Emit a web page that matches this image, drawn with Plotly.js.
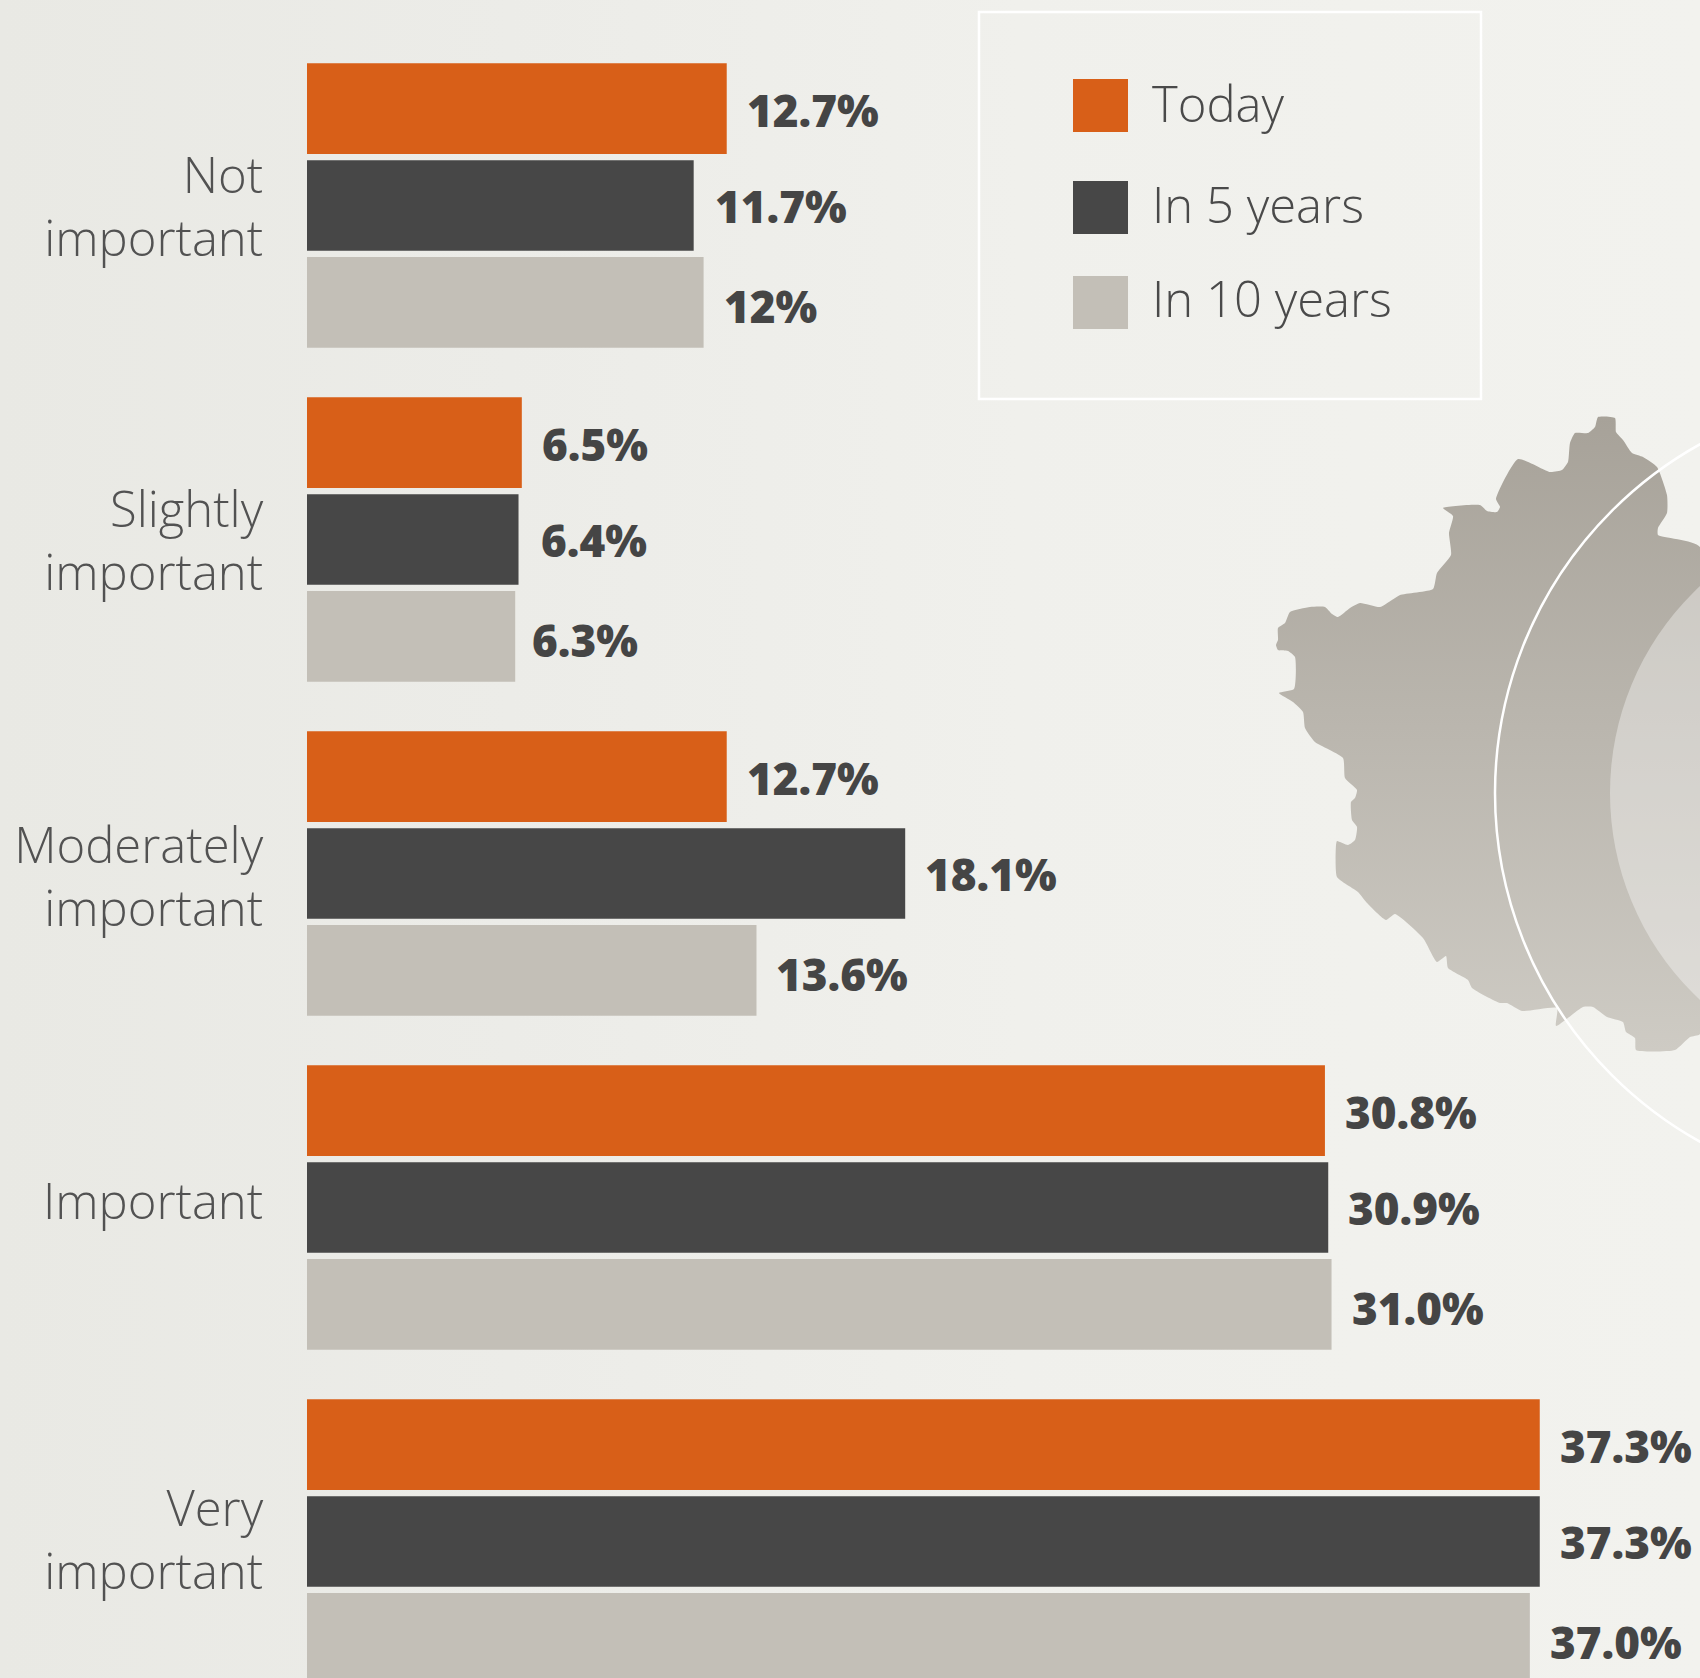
<!DOCTYPE html>
<html>
<head>
<meta charset="utf-8">
<script src="https://cdn.plot.ly/plotly-3.0.1.min.js"></script>
<style>
html,body{margin:0;padding:0;width:1700px;height:1678px;overflow:hidden;
background:linear-gradient(90deg,#e9e9e4 0%,#ecece8 30%,#f0f0ec 60%,#f2f2ee 100%);}
#chart{width:1700px;height:1678px;}
</style>
</head>
<body>
<div id="chart"></div>
<script>
const categories = ["Not<br>important","Slightly<br>important","Moderately<br>important","Important","Very<br>important"];
const seriesNames = ["Today","In 5 years","In 10 years"];
const seriesColors = ["#d85f18","#474747","#c3bfb7"];
const today = [12.7,6.5,12.7,30.8,37.3];
const in5Years = [11.7,6.4,18.1,30.9,37.3];
const in10Years = [12,6.3,13.6,31.0,37.0];
const todayLabels = ["12.7%","6.5%","12.7%","30.8%","37.3%"];
const in5YearsLabels = ["11.7%","6.4%","18.1%","30.9%","37.3%"];
const in10YearsLabels = ["12%","6.3%","13.6%","31.0%","37.0%"];

const mapX = [1598,1595,1588,1575,1570,1568,1562,1550,1518,1496,1500,1497,1487,1480,1443,1453,1449,1451,1437,1433,1400,1392,1380,1360,1350,1338,1332,1325,1310,1290,1285,1278,1278,1276,1278,1288,1295,1294,1279,1293,1303,1305,1315,1343,1345,1357,1355,1351,1352,1357,1355,1348,1337,1336,1337,1358,1367,1386,1395,1423,1437,1446,1448,1468,1472,1500,1507,1522,1557,1556,1583,1593,1607,1623,1626,1635,1636,1675,1690,1700,1700,1658,1658,1667,1667,1657,1643,1632,1623,1616,1615,1598];
const mapY = [417,427,433,433,443,462,470,472,459,499,507,512,511,505,508,516,533,555,573,589,595,600,607,603,608,617,614,607,607,612,623,628,640,645,650,651,657,689,693,702,712,728,742,758,778,790,798,802,820,827,840,845,841,845,877,892,903,920,914,938,962,956,968,980,988,1003,1003,1011,1008,1026,1007,1007,1017,1022,1032,1038,1050,1050,1037,1034,547,535,528,513,495,467,457,453,440,432,418,417];

const series = [
  {values: today, labels: todayLabels},
  {values: in5Years, labels: in5YearsLabels},
  {values: in10Years, labels: in10YearsLabels}
];

const traces = series.map((s,i)=>({
  type:"bar", orientation:"h", name:seriesNames[i],
  x:s.values, y:categories.map((_,k)=>k),
  marker:{color:seriesColors[i], line:{width:0}},
  hoverinfo:"x+name", showlegend:false
}));
traces.push({
  type:"scatter", mode:"lines", x:mapX, y:mapY, xaxis:"x2", yaxis:"y2",
  fill:"toself", line:{width:0, shape:"spline", smoothing:0.5},
  fillgradient:{type:"vertical", colorscale:[[0,"#cecbc4"],[1,"#a7a299"]]},
  hoverinfo:"skip", showlegend:false
});

const slotShift = [97,0,-97];
const labelDrop = [-1,0,-3];
const labelGap = [[18,18,18,18,18],[19,20,18,18,18],[18,15,18,18,18]];
const annotations = [];
series.forEach((s,i)=>s.labels.forEach((t,k)=>{
  annotations.push({
    xref:"x", yref:"y", x:s.values[k], y:k, text:t, showarrow:false,
    xanchor:"left", yanchor:"middle", xshift:labelGap[i][k], yshift:slotShift[i]+labelDrop[i],
    font:{family:"Open Sans", size:44, weight:800, color:"#454545"}
  });
}));
const legendRows = [[79,132],[181,234],[276,329]];
const legendTextY = [103,204,298];
const shapes = [
  {type:"circle", xref:"x2", yref:"y2", x0:1610, x1:2176, y0:510, y1:1076, fillcolor:"rgba(255,255,255,0.36)", line:{width:0}, layer:"above"},
  {type:"circle", xref:"x2", yref:"y2", x0:1495, x1:2293, y0:394, y1:1192, fillcolor:"rgba(0,0,0,0)", line:{color:"#ffffff", width:2.5}, layer:"above"},
  {type:"rect", xref:"x2", yref:"y2", x0:979, x1:1481, y0:12, y1:399, fillcolor:"rgba(0,0,0,0)", line:{color:"#ffffff", width:2.5}, layer:"above"}
];
seriesNames.forEach((n,i)=>{
  shapes.push({type:"rect", xref:"x2", yref:"y2", x0:1073, x1:1128, y0:legendRows[i][0], y1:legendRows[i][1], fillcolor:seriesColors[i], line:{width:0}, layer:"above"});
  annotations.push({xref:"x2", yref:"y2", x:1150, y:legendTextY[i], text:n, showarrow:false,
    xanchor:"left", yanchor:"middle", font:{family:"Open Sans", size:49, weight:300, color:"#4a4a4a"}});
});

const pxPerUnit = 33.05, barLeft = 307, W = 1700, H = 1678, groupTop = 205.5, pitch = 334;
const tickNudgePx = [2,2,4,-6,-1];
const layout = {
  width:W, height:H, margin:{l:0,r:0,t:0,b:0,pad:0}, autosize:false,
  paper_bgcolor:"rgba(0,0,0,0)", plot_bgcolor:"rgba(0,0,0,0)",
  barmode:"group", bargap:0.13, bargroupgap:0.065, showlegend:false,
  xaxis:{domain:[barLeft/W,1], range:[0,(W-barLeft)/pxPerUnit], visible:false, fixedrange:true},
  yaxis:{
    range:[(H-groupTop)/pitch, -groupTop/pitch], tickmode:"array",
    tickvals:categories.map((_,k)=>k+tickNudgePx[k]/pitch), ticktext:categories,
    tickfont:{family:"Open Sans", size:49, weight:300, color:"#525252"},
    ticks:"outside", ticklen:33, tickcolor:"rgba(0,0,0,0)", showline:false, showgrid:false, zeroline:false, fixedrange:true
  },
  xaxis2:{domain:[0,1], range:[0,W], visible:false, anchor:"y2", fixedrange:true},
  yaxis2:{domain:[0,1], range:[H,0], visible:false, anchor:"x2", fixedrange:true},
  annotations, shapes
};
Plotly.newPlot("chart", traces, layout, {displayModeBar:false});
</script>
</body>
</html>
